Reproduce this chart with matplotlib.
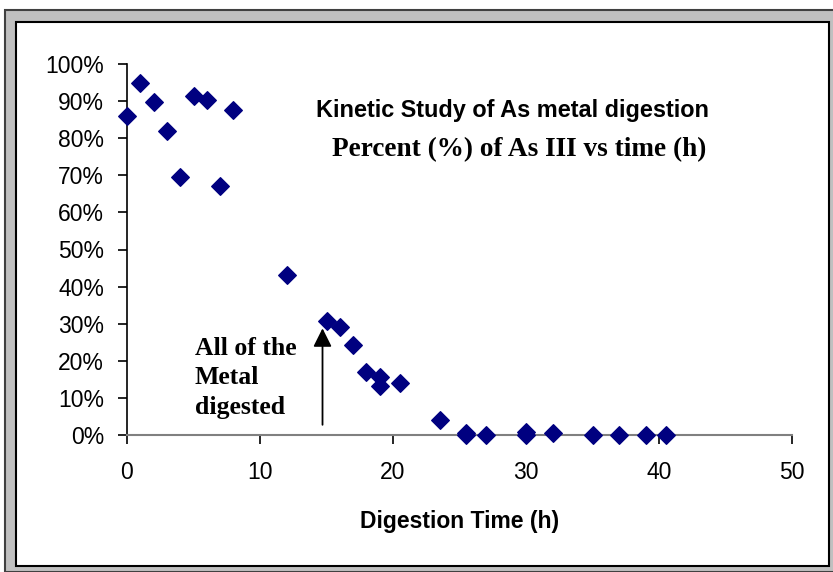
import matplotlib.pyplot as plt
from matplotlib.patches import Rectangle
from matplotlib.ticker import PercentFormatter

# digestion time (h) and percent of As III remaining
time_h = [0, 1, 2, 3, 4, 5, 6, 7, 8, 12, 15, 16, 17, 18, 19, 19, 20.5,
          23.5, 25.5, 25.5, 27, 30, 30, 32, 35, 37, 39, 40.5]
pct_as3 = [86, 95, 89.7, 81.9, 69.5, 91.4, 90.3, 67.1, 87.6, 43.1, 30.7, 29.1,
           24.3, 17.0, 15.6, 13.2, 14.0, 4.0, 0.6, 0.0, 0.0, 0.7, 0.0, 0.5,
           0.0, 0.0, 0.0, 0.0]

x_ticks = [0, 10, 20, 30, 40, 50]
y_ticks = [0, 10, 20, 30, 40, 50, 60, 70, 80, 90, 100]

W, H = 833, 572
fig = plt.figure(figsize=(W / 100, H / 100), dpi=100)

# excel-style chart frame, kept behind the axes
fig.add_artist(Rectangle((5 / W, 0), 1, 1 - 10 / H, transform=fig.transFigure,
                         facecolor='#c0c0c0', edgecolor='#404040', lw=1.5, zorder=-10))
fig.add_artist(Rectangle((16 / W, 6 / H), (829 - 16) / W, (566 - 22) / H,
                         transform=fig.transFigure, facecolor='white',
                         edgecolor='black', lw=1.5, zorder=-9))

ax = fig.add_axes([127 / W, (H - 435) / H, 665 / W, 371 / H])
ax.patch.set_alpha(0)
ax.scatter(time_h, pct_as3, marker='D', s=80, color='#000080', zorder=3, clip_on=False)

ax.set_xlim(0, 50)
ax.set_ylim(0, 100)
ax.set_xticks(x_ticks)
ax.set_yticks(y_ticks)
ax.yaxis.set_major_formatter(PercentFormatter(decimals=0))
for s in ['top', 'right']:
    ax.spines[s].set_visible(False)
ax.spines['bottom'].set_color('#808080')
ax.spines['bottom'].set_linewidth(1.5)
ax.spines['left'].set_linewidth(1.2)
ax.tick_params(direction='out', length=6.5, width=1.2, labelsize=16.5, colors='black')
ax.tick_params(axis='y', pad=10)
ax.tick_params(axis='x', pad=12)
for lbl in ax.get_xticklabels() + ax.get_yticklabels():
    lbl.set_family('Liberation Sans')

ax.set_xlabel('Digestion Time (h)', fontsize=16.5, fontweight='bold',
              family='Liberation Sans', labelpad=19)

ax.text(0.58, 0.875, 'Kinetic Study of As metal digestion', transform=ax.transAxes,
        ha='center', va='center', fontsize=16.9, fontweight='bold', family='Liberation Sans')
ax.text(0.59, 0.77, 'Percent (%) of As III vs time (h)', transform=ax.transAxes,
        ha='center', va='center', fontsize=19.6, fontweight='bold', family='Liberation Serif')

ax.text(5.1, 15.4, 'All of the\nMetal\ndigested', ha='left', va='center',
        fontsize=18.5, fontweight='bold', family='Liberation Serif', linespacing=1.37)
ax.annotate('', xy=(14.7, 29.5), xytext=(14.7, 2),
            arrowprops=dict(arrowstyle='-|>', color='black', lw=1.3, mutation_scale=28))

fig.savefig('out.png', dpi=100)
